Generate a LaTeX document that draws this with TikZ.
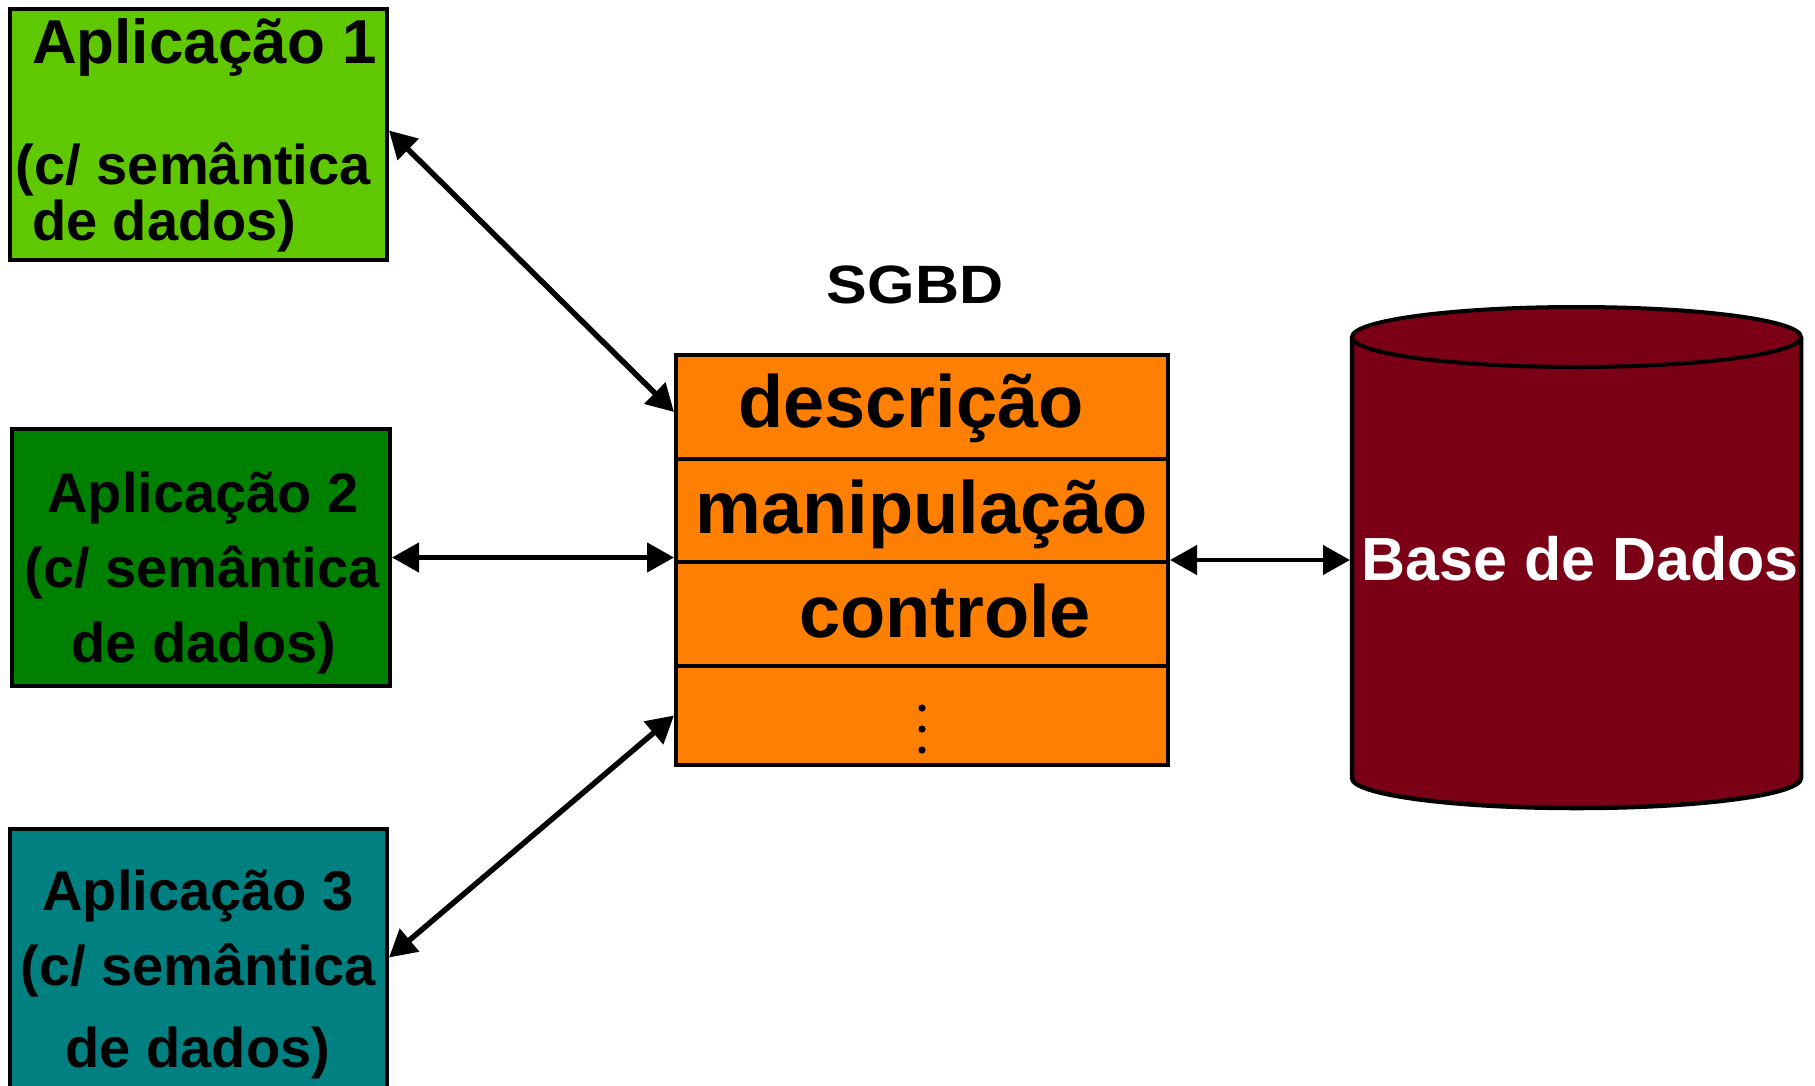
\documentclass[tikz,border=0pt]{standalone}
\usepackage{fontspec}
\setmainfont{Liberation Sans}
\usetikzlibrary{arrows.meta}

\definecolor{appA}{HTML}{5FC800}
\definecolor{appB}{HTML}{008000}
\definecolor{appC}{HTML}{008080}
\definecolor{sgbdfill}{HTML}{FF8000}
\definecolor{dbfill}{HTML}{7B0016}

\tikzset{
  appbox/.style={draw=black, line width=4pt, rectangle, inner sep=0pt},
  layer/.style={draw=black, line width=4pt, fill=sgbdfill, rectangle,
    minimum width=492pt, inner sep=0pt},
  label/.style={anchor=base, inner sep=0pt, outer sep=0pt, font=\bfseries\fontsize{56}{60}\selectfont},
  biglabel/.style={label, font=\bfseries\fontsize{74}{80}\selectfont},
  link/.style={line width=4.5pt, {Triangle[length=27pt,width=29pt]}-{Triangle[length=27pt,width=29pt]}},
  slantlink/.style={link, line width=5.5pt}
}

\begin{document}
\begin{tikzpicture}[x=1pt,y=-1pt]
\useasboundingbox (0,0) rectangle (1815,1085);
\clip (0,0) rectangle (1815,1085);

% application boxes
\node[appbox, fill=appA, minimum width=377pt, minimum height=251pt] (app1) at (198.5,134.5) {};
\node[appbox, fill=appB, minimum width=378pt, minimum height=257pt] (app2) at (201,557.5) {};
\node[appbox, fill=appC, minimum width=377pt, minimum height=269pt] (app3) at (198.5,963.5) {};

\node[label, anchor=base west, font=\bfseries\fontsize{62}{66}\selectfont] (a1t) at (32,63) {Aplicação 1};
\node[label, anchor=base west] (a1s) at (16,184) {(c/ semântica};
\node[label, anchor=base west] (a1d) at (32,240) {de dados)};

\node[label] (a2t) at (203,512) {Aplicação 2};
\node[label] (a2s) at (202,587) {(c/ semântica};
\node[label] (a2d) at (204,662) {de dados)};

\node[label] (a3t) at (198,910) {Aplicação 3};
\node[label] (a3s) at (198,985) {(c/ semântica};
\node[label] (a3d) at (198,1067) {de dados)};

% SGBD layers
\node[label, font=\bfseries\fontsize{54}{58}\selectfont] (title) at (915,303) {\scalebox{1.13}[1]{SGBD}};
\node[layer, minimum height=104pt] (r1) at (922,407) {};
\node[layer, minimum height=103pt] (r2) at (922,510.5) {};
\node[layer, minimum height=104pt] (r3) at (922,614) {};
\node[layer, minimum height=99pt]  (r4) at (922,715.5) {};
\node[draw=black, line width=4pt, minimum width=492pt, minimum height=410pt, inner sep=0pt] (sgbd) at (922,560) {};

\node[biglabel] (l1) at (911,427) {descrição};
\node[biglabel] (l2) at (922,533) {manipulação};
\node[biglabel] (l3) at (945,637) {controle};
\foreach \yy in {708,729,750} \fill (922,\yy) circle (3.6pt);

% database cylinder (radii in pt are canvas lengths, so angles run counter-clockwise on the page)
\fill[dbfill] (1352,337) rectangle (1801,778);
\fill[dbfill] (1576.5,778) ellipse [x radius=224.5pt, y radius=30pt];
\draw[line width=4.5pt] (1352,337) -- (1352,778)
  arc [start angle=180, end angle=360, x radius=224.5pt, y radius=30pt] -- (1801,337);
\draw[line width=4pt, fill=dbfill] (1576.5,337) ellipse [x radius=224.5pt, y radius=30pt];
\node[minimum width=453pt, minimum height=505pt, inner sep=0pt, outer sep=0pt] (db) at (1576.5,557.5) {};
\node[label, text=white, font=\bfseries\fontsize{61}{65}\selectfont] (dbt) at (1580,580) {Base de Dados};

% connectors
\draw[slantlink] ([yshift=4pt]app1.east) -- ([yshift=-5pt]r1.west);
\draw[link] (app2.east) -- (app2.east -| sgbd.west);
\draw[slantlink] ([yshift=6pt]app3.east) -- (r4.west);
\draw[link] (sgbd.east) -- (sgbd.east -| db.west);
\end{tikzpicture}
\end{document}
